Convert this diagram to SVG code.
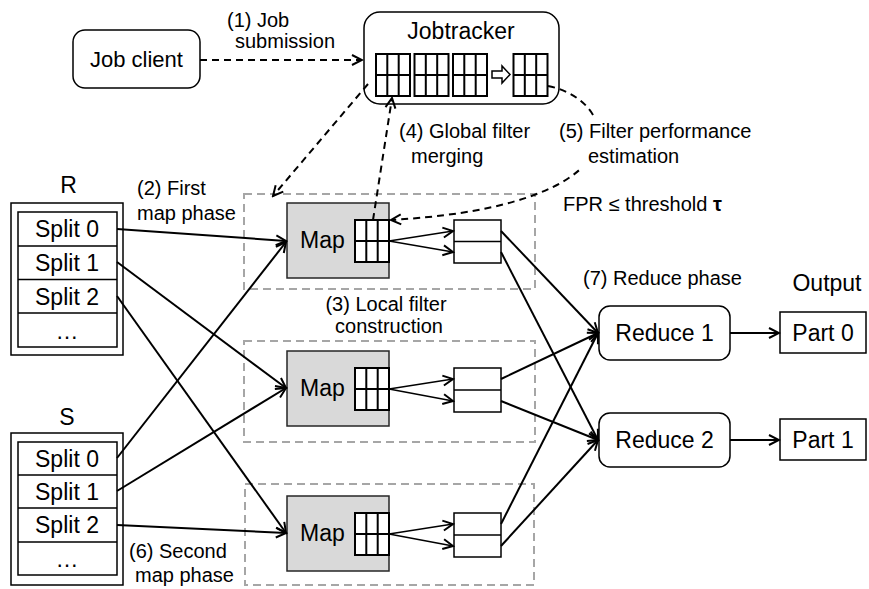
<svg xmlns="http://www.w3.org/2000/svg" xmlns:xlink="http://www.w3.org/1999/xlink" width="869" height="589" viewBox="0 0 869 589">
<style>
.t{font-family:"Liberation Sans",Arial,sans-serif;fill:#000}
.lb{font-size:20px}
.nm{font-size:23px}
.node{fill:#fff;stroke:#000;stroke-width:1.5}
.map{fill:#d9d9d9;stroke:#262626;stroke-width:1.5}
.grid{fill:#fff;stroke:#000;stroke-width:2}
.region{fill:none;stroke:#a6a6a6;stroke-width:2;stroke-dasharray:8 5}
.conn{fill:none;stroke:#000;stroke-width:2;marker-end:url(#ah)}
.thin{stroke-width:1.3}
.dash{stroke-dasharray:7 5}
</style>
<defs>
<marker id="ah" markerUnits="userSpaceOnUse" markerWidth="14" markerHeight="14" viewBox="0 0 14 14" refX="12" refY="7" orient="auto">
<path d="M2,2 L12,7 L2,12" fill="none" stroke="#000" stroke-width="2" stroke-dasharray="none"/>
</marker>
<g id="grid"><rect class="grid" x="0" y="0" width="34" height="42"/><path class="grid" d="M11.3,0V42M22.7,0V42M0,21H34"/></g>
</defs>

<g id="regions">
<rect class="region" x="244" y="194" width="291" height="95"/>
<rect class="region" x="244" y="341" width="291" height="101"/>
<rect class="region" x="245" y="484" width="289" height="101"/>
</g>

<g id="job-client">
<rect class="node" x="73" y="30" width="127" height="58" rx="12"/>
<text class="t" x="136.5" y="67" font-size="22" text-anchor="middle">Job client</text>
</g>

<g id="jobtracker">
<rect class="node" x="364" y="12" width="195" height="92" rx="16"/>
<text class="t nm" x="461" y="39" text-anchor="middle">Jobtracker</text>
<use xlink:href="#grid" transform="translate(376,54)"/>
<use xlink:href="#grid" transform="translate(414.5,54)"/>
<use xlink:href="#grid" transform="translate(453,54)"/>
<polygon points="492,71 502,71 502,66 510,74.5 502,83 502,78 492,78" fill="#fff" stroke="#000" stroke-width="1.5"/>
<use xlink:href="#grid" transform="translate(513.5,54)"/>
</g>

<g id="R">
<text class="t nm" x="68.5" y="193" text-anchor="middle">R</text>
<rect x="11" y="203" width="112" height="152" fill="#fff" stroke="#000" stroke-width="1.5"/>
<rect x="18" y="212" width="99" height="135" fill="#fff" stroke="#000" stroke-width="1.5"/>
<path d="M18,246H117M18,279.5H117M18,313H117" stroke="#000" stroke-width="1.5"/>
<text class="t nm" x="67" y="237" text-anchor="middle">Split 0</text>
<text class="t nm" x="67" y="271" text-anchor="middle">Split 1</text>
<text class="t nm" x="67" y="304.5" text-anchor="middle">Split 2</text>
<text class="t nm" x="67" y="339" text-anchor="middle">…</text>
</g>

<g id="S">
<text class="t nm" x="67" y="425" text-anchor="middle">S</text>
<rect x="11" y="433" width="112" height="152" fill="#fff" stroke="#000" stroke-width="1.5"/>
<rect x="18" y="442" width="99" height="133" fill="#fff" stroke="#000" stroke-width="1.5"/>
<path d="M18,475H117M18,508H117M18,542H117" stroke="#000" stroke-width="1.5"/>
<text class="t nm" x="67" y="466.5" text-anchor="middle">Split 0</text>
<text class="t nm" x="67" y="499.5" text-anchor="middle">Split 1</text>
<text class="t nm" x="67" y="533" text-anchor="middle">Split 2</text>
<text class="t nm" x="67" y="567" text-anchor="middle">…</text>
</g>

<g id="map1">
<rect class="map" x="287" y="203" width="102" height="75"/>
<text class="t nm" x="300" y="248">Map</text>
<use xlink:href="#grid" transform="translate(355,220)"/>
</g>
<g id="map2">
<rect class="map" x="287" y="351" width="102" height="75"/>
<text class="t nm" x="300" y="396">Map</text>
<use xlink:href="#grid" transform="translate(355,368)"/>
</g>
<g id="map3">
<rect class="map" x="287" y="496" width="102" height="75"/>
<text class="t nm" x="300" y="541">Map</text>
<use xlink:href="#grid" transform="translate(355,513)"/>
</g>

<g id="part-buf1">
<rect class="node" x="454" y="220" width="47" height="43"/>
<path d="M454,241.5H501" stroke="#000" stroke-width="1.5"/>
</g>
<g id="part-buf2">
<rect class="node" x="454" y="368" width="47" height="44"/>
<path d="M454,390H501" stroke="#000" stroke-width="1.5"/>
</g>
<g id="part-buf3">
<rect class="node" x="454" y="513" width="47" height="44"/>
<path d="M454,535H501" stroke="#000" stroke-width="1.5"/>
</g>

<g id="reduce1">
<rect class="node" x="599" y="306" width="131" height="54" rx="11"/>
<text class="t nm" x="664.5" y="341" text-anchor="middle">Reduce 1</text>
</g>
<g id="reduce2">
<rect class="node" x="599" y="413" width="131" height="54" rx="11"/>
<text class="t nm" x="664.5" y="448" text-anchor="middle">Reduce 2</text>
</g>

<g id="output">
<text class="t nm" x="827" y="291" text-anchor="middle">Output</text>
</g>
<g id="part0">
<rect class="node" x="780" y="312" width="86" height="41"/>
<text class="t nm" x="823" y="341" text-anchor="middle">Part 0</text>
</g>
<g id="part1">
<rect class="node" x="780" y="419" width="86" height="41"/>
<text class="t nm" x="823" y="448" text-anchor="middle">Part 1</text>
</g>

<g id="connectors">
<path class="conn dash" d="M200,60H362"/>
<path class="conn dash" d="M368,84L273,196"/>
<path class="conn dash" d="M373,220L392,98"/>
<path class="conn dash" d="M548,86C568.16,89.92 585.03,100.97 593.18,115.19" style="marker-end:none"/>
<path class="conn dash" d="M578.89,170.38C551.96,193.6 494.6,214 391,220"/>

<path class="conn" d="M117,229L286,241"/>
<path class="conn" d="M117,262L286,388"/>
<path class="conn" d="M117,296L286,533"/>
<path class="conn" d="M117,458L286,242"/>
<path class="conn" d="M117,491L286,388"/>
<path class="conn" d="M117,525L286,533"/>

<path class="conn thin" d="M389,241L453,231"/>
<path class="conn thin" d="M389,241L453,252"/>
<path class="conn thin" d="M389,389L453,379"/>
<path class="conn thin" d="M389,389L453,401"/>
<path class="conn thin" d="M389,534L453,524"/>
<path class="conn thin" d="M389,534L453,546"/>

<path class="conn" d="M501,231L598,333"/>
<path class="conn" d="M501,252L598,440"/>
<path class="conn" d="M501,379L598,333"/>
<path class="conn" d="M501,401L598,440"/>
<path class="conn" d="M501,524L598,333"/>
<path class="conn" d="M501,546L598,440"/>

<path class="conn" d="M730,333H779"/>
<path class="conn" d="M730,440H779"/>
</g>

<g id="labels">
<text class="t lb" x="227" y="27">(1) Job</text>
<text class="t lb" x="235" y="48">submission</text>
<text class="t lb" x="137" y="195">(2) First</text>
<text class="t lb" x="137" y="220">map phase</text>
<text class="t lb" x="386" y="311" text-anchor="middle">(3) Local filter</text>
<text class="t lb" x="389" y="333" text-anchor="middle">construction</text>
<text class="t lb" x="399" y="138">(4) Global filter</text>
<text class="t lb" x="411" y="163">merging</text>
<text class="t lb" x="559" y="138">(5) Filter performance</text>
<text class="t lb" x="588" y="163">estimation</text>
<text class="t lb" x="563" y="211">FPR ≤ threshold <tspan font-weight="bold">τ</tspan></text>
<text class="t lb" x="129" y="558">(6) Second</text>
<text class="t lb" x="135" y="582">map phase</text>
<text class="t lb" x="583" y="285">(7) Reduce phase</text>
</g>
</svg>
